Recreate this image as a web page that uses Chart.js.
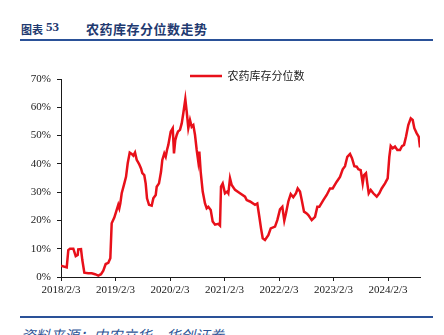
<!DOCTYPE html>
<html>
<head>
<meta charset="utf-8">
<script src="https://cdn.jsdelivr.net/npm/chart.js@4/dist/chart.umd.min.js"></script>
<style>
  html, body { margin: 0; padding: 0; background: #fff; }
  body { width: 444px; height: 335px; position: relative; overflow: hidden; }
  #wrap { position: absolute; left: 0; top: 0; width: 444px; height: 335px; }
  .title { position: absolute; top: 19px; color: #1f3a70; font-weight: bold; white-space: nowrap; }
  .rule { position: absolute; left: 20px; width: 413px; height: 2px; background: #2a5198; }
  #source { position: absolute; left: 21px; top: 324px; font: italic 14.5px "Noto Sans CJK SC", sans-serif; color: #2e5597; white-space: nowrap; }
</style>
</head>
<body>
<span class="title" style="left:21px; font: bold 11px 'Noto Sans CJK SC', sans-serif; top:21px;">图表</span>
<span class="title" style="left:46px; font: bold 13px 'Liberation Serif', serif;">53</span>
<span class="title" style="left:86px; font: bold 13px 'Noto Sans CJK SC', sans-serif; letter-spacing: 0.5px;">农药库存分位数走势</span>
<div class="rule" style="top:39px;"></div>
<div class="rule" style="top:316px;"></div>
<div id="source">资料来源：中农立华，华创证券</div>
<div id="wrap"><canvas id="chart-stock"></canvas></div>
<script>
// years since 2018/2/3
const times = [
    0.00, 0.105, 0.134, 0.165, 0.226, 0.270, 0.306, 0.317, 0.367, 0.391, 0.428, 0.501, 0.563, 0.624, 0.684, 0.734,
    0.776, 0.820, 0.868, 0.905, 0.930, 0.978, 1.022, 1.051, 1.070, 1.088, 1.114, 1.161, 1.193, 1.224, 1.261, 1.297,
    1.327, 1.358, 1.389, 1.431, 1.468, 1.492, 1.528, 1.554, 1.578, 1.615, 1.664, 1.694, 1.738, 1.756, 1.798, 1.835,
    1.859, 1.895, 1.921, 1.945, 1.969, 2.013, 2.050, 2.073, 2.097, 2.123, 2.147, 2.183, 2.215, 2.244, 2.281, 2.307,
    2.336, 2.367, 2.398, 2.428, 2.459, 2.490, 2.519, 2.538, 2.563, 2.600, 2.642, 2.673, 2.703, 2.747, 2.783, 2.826,
    2.886, 2.917, 2.936, 2.967, 3.009, 3.051, 3.070, 3.101, 3.132, 3.193, 3.284, 3.376, 3.407, 3.468, 3.560, 3.602,
    3.639, 3.670, 3.701, 3.743, 3.804, 3.848, 3.927, 3.969, 4.018, 4.061, 4.097, 4.128, 4.171, 4.215, 4.262, 4.312,
    4.343, 4.385, 4.417, 4.459, 4.508, 4.538, 4.600, 4.661, 4.703, 4.740, 4.813, 4.875, 4.936, 4.985, 5.059, 5.119,
    5.169, 5.211, 5.253, 5.303, 5.339, 5.382, 5.426, 5.455, 5.499, 5.536, 5.560, 5.596, 5.620, 5.646, 5.683, 5.730,
    5.793, 5.840, 5.884, 5.945, 5.994, 6.024, 6.050, 6.086, 6.128, 6.171, 6.220, 6.257, 6.294, 6.330, 6.372, 6.417,
    6.453, 6.483, 6.527, 6.563, 6.587
];
const stockPct = [
    4.0, 3.4, 9.5, 10.0, 10.0, 7.4, 7.8, 9.8, 9.9, 6.0, 1.5, 1.3, 1.3, 1.0, 0.5, 1.0,
    2.2, 4.6, 5.0, 6.6, 19.0, 21.0, 23.7, 25.5, 24.3, 26.0, 29.6, 33.0, 35.4, 40.2, 44.0, 43.5,
    42.9, 44.0, 41.4, 40.0, 38.4, 36.7, 36.0, 33.0, 27.8, 25.5, 25.2, 27.8, 29.0, 31.9, 33.1, 37.2,
    41.4, 43.7, 42.5, 44.9, 46.7, 51.4, 52.6, 43.7, 48.4, 50.2, 51.4, 52.0, 54.3, 57.9, 62.9, 58.4,
    52.6, 55.5, 53.1, 53.7, 50.2, 44.9, 40.8, 44.3, 37.2, 30.2, 26.0, 24.3, 24.8, 23.7, 19.6, 18.5,
    18.8, 18.2, 32.0, 33.1, 29.6, 30.2, 29.6, 34.9, 32.5, 30.8, 29.6, 28.4, 27.2, 26.7, 25.5, 26.0,
    21.3, 17.2, 13.7, 13.1, 14.8, 17.2, 17.8, 20.1, 23.9, 24.8, 19.9, 22.5, 26.7, 29.3, 28.2, 29.6,
    31.3, 30.2, 27.2, 23.1, 22.5, 21.9, 20.1, 21.3, 24.8, 24.8, 27.2, 29.0, 31.3, 31.3, 33.7, 35.4,
    38.1, 39.2, 42.5, 43.5, 42.0, 39.2, 39.0, 38.1, 37.8, 33.1, 36.0, 36.7, 33.1, 29.6, 30.8, 29.6,
    28.4, 29.6, 31.3, 33.1, 34.9, 42.5, 46.3, 45.5, 46.1, 44.9, 44.9, 46.3, 46.7, 49.6, 53.7, 56.1,
    55.5, 52.6, 50.8, 49.6, 45.8
];
const tickYears = [0, 1, 2, 3, 4, 5, 6];
const tickLabels = ['2018/2/3', '2019/2/3', '2020/2/3', '2021/2/3', '2022/2/3', '2023/2/3', '2024/2/3'];
const yTicks = [0, 10, 20, 30, 40, 50, 60, 70];
const seriesName = '农药库存分位数';

const axisColor = '#1a1a1a';
const tickFont = { family: 'Liberation Serif', size: 11 };

// put the legend just above the plot top, like the report
const legendShift = {
    id: 'legendShift',
    afterLayout(chart) {
        const lg = chart.legend;
        if (!lg) return;
        const w = lg.width, h = lg.height;
        lg.left = 180;
        lg.right = lg.left + w;
        lg.top = 76 - 10 - 5.5;
        lg.bottom = lg.top + h;
    }
};

const ctx = document.getElementById('chart-stock');
new Chart(ctx, {
    type: 'line',
    data: {
        datasets: [{
            label: seriesName,
            data: times.map((t, i) => ({ x: t, y: stockPct[i] })),
            borderColor: '#e8101a',
            backgroundColor: '#e8101a',
            borderWidth: 2.5,
            pointRadius: 0,
            tension: 0
        }]
    },
    options: {
        responsive: true,
        maintainAspectRatio: false,
        animation: false,
        layout: { padding: { left: 0, right: 24, top: 79, bottom: 28 } },
        plugins: {
            legend: {
                position: 'chartArea',
                align: 'start',
                labels: {
                    usePointStyle: true,
                    pointStyle: 'line',
                    pointStyleWidth: 32,
                    padding: 10,
                    color: '#222',
                    font: { family: 'Noto Sans CJK SC', size: 11 }
                }
            },
            tooltip: { enabled: false }
        },
        scales: {
            x: {
                type: 'linear',
                min: 0,
                max: times[times.length - 1],
                afterBuildTicks: scale => { scale.ticks = tickYears.map(v => ({ value: v })); },
                afterFit: scale => { scale.height = 30; },
                ticks: {
                    autoSkip: false,
                    maxRotation: 0,
                    padding: 3,
                    color: axisColor,
                    font: tickFont,
                    callback: v => tickLabels[tickYears.indexOf(v)]
                },
                grid: { drawOnChartArea: false, tickLength: 4, color: axisColor },
                border: { display: true, color: axisColor, width: 1 }
            },
            y: {
                min: 0,
                max: 70,
                afterBuildTicks: scale => { scale.ticks = yTicks.map(v => ({ value: v })); },
                afterFit: scale => { scale.width = 61; },
                ticks: {
                    padding: 6,
                    color: axisColor,
                    font: tickFont,
                    callback: v => v + '%'
                },
                grid: { drawOnChartArea: false, tickLength: 4, color: axisColor },
                border: { display: true, color: axisColor, width: 1 }
            }
        }
    },
    plugins: [legendShift]
});
</script>
</body>
</html>
